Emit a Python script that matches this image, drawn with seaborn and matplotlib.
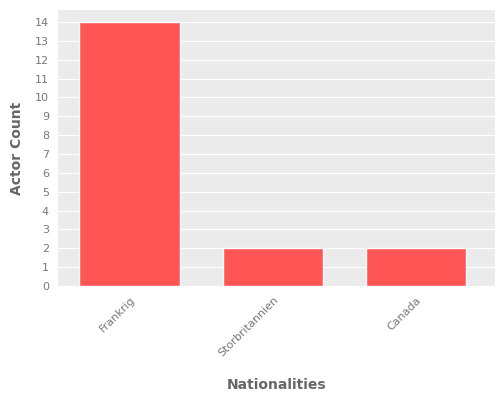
import matplotlib
matplotlib.use('Agg')
import matplotlib.pyplot as plt
import seaborn as sns
import pandas as pd

nationalities = ['Frankrig', 'Storbritannien', 'Canada']
actor_counts = [14, 2, 2]

df = pd.DataFrame({'Nationalities': nationalities, 'Actor Count': actor_counts})

sns.set_style('darkgrid', {'axes.facecolor': '#EBEBEB', 'grid.color': 'white'})
plt.rcParams['font.family'] = ['DejaVu Sans']

fig = plt.figure(figsize=(5, 4), dpi=100)
ax = fig.add_axes([0.116, 0.285, 0.874, 0.69])
sns.barplot(data=df, x='Nationalities', y='Actor Count', color='#FF5555',
            saturation=1, width=0.7, ax=ax)

ax.set_ylim(0, 14.64)
ax.set_xlim(-0.5, 2.55)
ax.set_yticks(range(0, 15))
ax.xaxis.grid(False)
for s in ax.spines.values():
    s.set_visible(False)
ax.tick_params(axis='both', colors='#777777', labelsize=8, length=3)
plt.setp(ax.get_xticklabels(), rotation=45, ha='right', rotation_mode='anchor')
ax.set_xlabel('Nationalities', fontsize=10, fontweight='bold', color='#666666', labelpad=14)
ax.set_ylabel('Actor Count', fontsize=10, fontweight='bold', color='#666666', labelpad=8)

fig.savefig('out.png', dpi=100)
